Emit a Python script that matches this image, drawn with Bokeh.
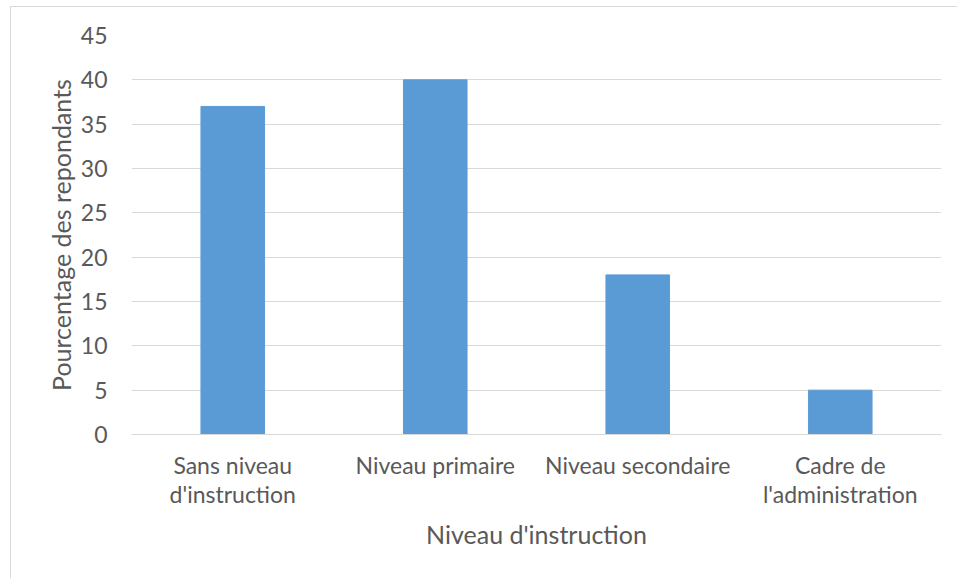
from bokeh.plotting import figure
from bokeh.models import FactorRange, Range1d, SingleIntervalTicker
from bokeh.embed import file_html
from bokeh.resources import INLINE

categories = ["Sans niveau\nd'instruction", "Niveau primaire", "Niveau secondaire", "Cadre de\nl'administration"]
values = [37, 40, 18, 5]
y_title = "Pourcentage des repondants"
x_title = "Niveau d'instruction"

TEXT = "#595959"
GRID = "#d9d9d9"
FONT = "Lato"

p = figure(x_range=FactorRange(*categories, range_padding=0), y_range=Range1d(0, 45),
           width=947, height=572, output_backend="svg", toolbar_location=None,
           min_border_left=120, min_border_right=17, min_border_top=28, min_border_bottom=145)
p.margin = (6, 0, 0, 10)
p.styles = {"border-left": "1px solid #d9d9d9", "border-top": "1px solid #d9d9d9"}

p.vbar(x=categories, top=values, width=0.314, color="#5b9bd5")

p.outline_line_color = None
p.xgrid.grid_line_color = None
p.ygrid.grid_line_color = GRID
p.ygrid.grid_line_width = 1

p.yaxis.ticker = SingleIntervalTicker(interval=5)
p.yaxis.axis_line_color = None
p.yaxis.major_tick_line_color = None
p.yaxis.minor_tick_line_color = None
p.yaxis.major_label_standoff = 18
p.yaxis.axis_label = y_title
p.yaxis.axis_label_standoff = 2

p.xaxis.axis_line_color = GRID
p.xaxis.major_tick_line_color = None
p.xaxis.minor_tick_line_color = None
p.xaxis.major_label_standoff = 10
p.xaxis.axis_label = x_title
p.xaxis.axis_label_standoff = 8

for ax in (p.xaxis, p.yaxis):
    ax.major_label_text_font = FONT
    ax.major_label_text_font_size = "23px"
    ax.major_label_text_color = TEXT
    ax.major_label_text_line_height = 1.05
    ax.axis_label_text_font = FONT
    ax.axis_label_text_font_size = "25px"
    ax.axis_label_text_font_style = "normal"
    ax.axis_label_text_color = TEXT

open("out.html", "w").write(file_html(p, INLINE))
